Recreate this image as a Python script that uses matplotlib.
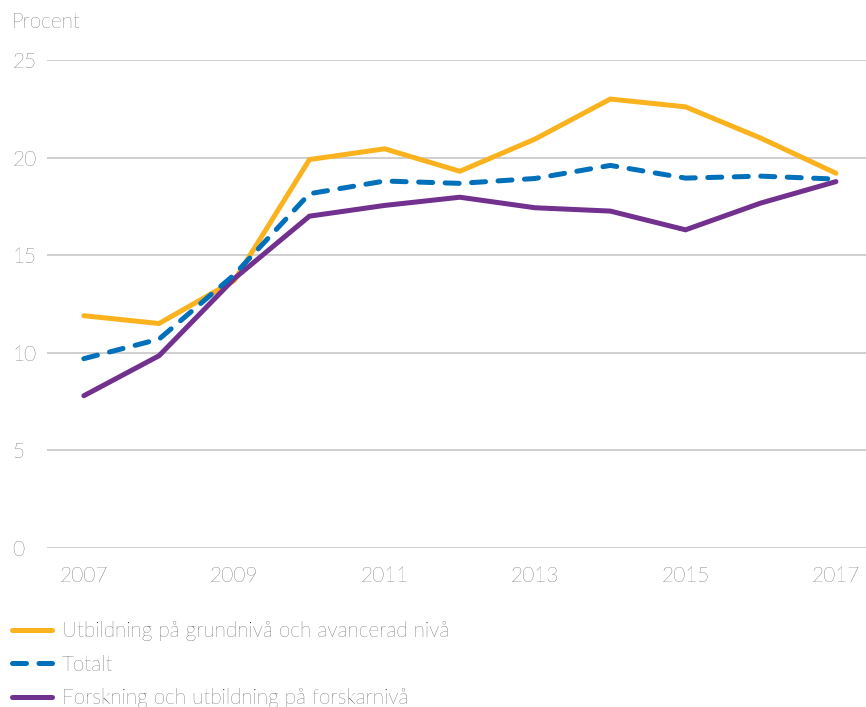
import matplotlib.pyplot as plt

plt.rcParams['font.family'] = ['Lato', 'DejaVu Sans']

years = list(range(2007, 2018))
grund_avancerad = [11.9, 11.5, 13.7, 19.9, 20.45, 19.3, 20.95, 23.0, 22.6, 21.0, 19.2]
totalt = [9.7, 10.7, 14.0, 18.15, 18.8, 18.68, 18.93, 19.6, 18.95, 19.05, 18.9]
forskning = [7.8, 9.85, 13.8, 17.0, 17.55, 17.97, 17.43, 17.26, 16.3, 17.67, 18.77]

series_labels = ["Utbildning på grundnivå och avancerad nivå",
                 "Totalt",
                 "Forskning och utbildning på forskarnivå"]
yticks = [0, 5, 10, 15, 20, 25]
xticks = [2007, 2009, 2011, 2013, 2015, 2017]

txt = '#111111'
fs = 15
fw = 'light'

fig = plt.figure(figsize=(8.66, 7.07), dpi=100)
ax = fig.add_axes([47 / 866, 1 - 548 / 707, 1 - 47 / 866, (548 - 60) / 707])

lw = 3.6
ax.plot(years, grund_avancerad, color='#FBB21F', lw=lw, solid_capstyle='round',
        solid_joinstyle='miter', label=series_labels[0], zorder=3)
ax.plot(years, totalt, color='#0070BA', lw=lw, linestyle=(0, (2.8, 2.5)),
        dash_capstyle='round', label=series_labels[1], zorder=4)
ax.plot(years, forskning, color='#72308F', lw=lw, solid_capstyle='round',
        solid_joinstyle='miter', label=series_labels[2], zorder=3)

ax.set_ylim(0, 25)
ax.set_xlim(2006.51, 2017.4)
ax.set_yticks(yticks)
ax.set_xticks(xticks)
ax.grid(axis='y', color='#cccccc', lw=1.3)
ax.set_axisbelow(True)
for s in ax.spines.values():
    s.set_visible(False)
ax.tick_params(axis='both', length=0, labelsize=fs, labelcolor=txt)
ax.tick_params(axis='y', pad=25)
ax.tick_params(axis='x', pad=13)
for lab in ax.get_yticklabels():
    lab.set_horizontalalignment('left')
for lab in ax.get_yticklabels() + ax.get_xticklabels():
    lab.set_fontweight(fw)

fig.text(12 / 866, 1 - 22 / 707, "Procent", fontsize=fs, color=txt,
         fontweight=fw, va='center', ha='left')

leg = ax.legend(loc='upper left', bbox_to_anchor=(12 / 866, 1 - 621 / 707),
                bbox_transform=fig.transFigure, frameon=False, fontsize=fs,
                handlelength=1.9, handletextpad=0.5, labelspacing=0.66,
                borderaxespad=0, borderpad=0)
for t in leg.get_texts():
    t.set_color(txt)
    t.set_fontweight(fw)

fig.savefig('out.png', dpi=100)
